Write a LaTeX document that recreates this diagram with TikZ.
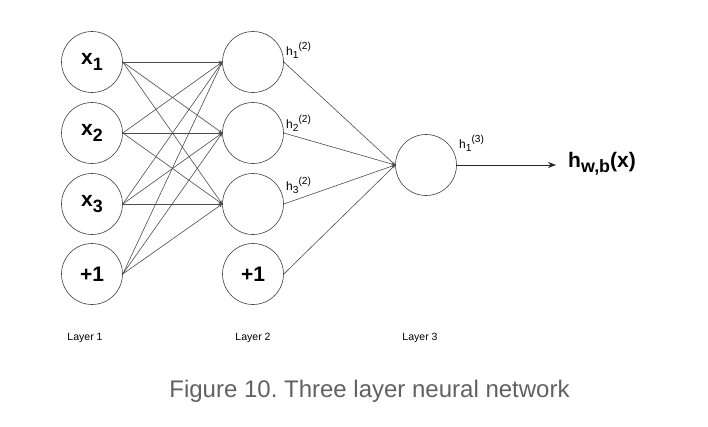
\documentclass[tikz,border=0pt]{standalone}
\usepackage{fontspec}
\setmainfont{Liberation Sans}
\usetikzlibrary{arrows.meta}
\frenchspacing
\newcommand\mysub[1]{\raisebox{-0.28em}{\scalebox{0.85}{#1}}}
\newcommand\mysup[1]{\raisebox{0.45em}{\scalebox{0.85}{#1}}}
\begin{document}
\begin{tikzpicture}[x=1pt,y=-1pt,
  neuron/.style={circle,draw=black!75,line width=0.6pt,minimum size=61pt,inner sep=0pt,font=\fontsize{21}{22}\selectfont\bfseries},
  conn/.style={draw=black!70,line width=0.6pt,-{Stealth[length=3.5pt,width=3pt]}},
  hlab/.style={font=\fontsize{12}{13}\selectfont,inner sep=0pt},
  laylab/.style={font=\fontsize{10.5}{11}\selectfont,inner sep=0pt}]
\useasboundingbox (0,0) rectangle (708,426);
\node[neuron] (x1) at (92,62) {x\mysub{1}};
\node[neuron] (x2) at (92,133) {x\mysub{2}};
\node[neuron] (x3) at (92,204) {x\mysub{3}};
\node[neuron] (b1) at (92,274) {+1};
\node[neuron] (h1) at (253,62) {};
\node[neuron] (h2) at (253,133) {};
\node[neuron] (h3) at (253,204) {};
\node[neuron] (b2) at (253,274) {+1};
\node[neuron] (o) at (426,165) {};
\foreach \s in {x1,x2,x3,b1}{
  \foreach \t in {h1,h2,h3}{
    \draw[conn] (\s.east) -- (\t.west);
  }
}
\foreach \s in {h1,h2,h3,b2}{
  \draw[conn] (\s.east) -- (o.west);
}
\node[font=\fontsize{21}{22}\selectfont\bfseries,anchor=base west,inner sep=0pt] (out) at (568,167) {h\mysub{w,b}(x)};
\coordinate (tip) at (556,165);
\draw[draw=black!85,line width=0.7pt,-{Stealth[length=8pt,width=6pt]}] (o.east) -- (tip);
\node[hlab,anchor=base west] (l1) at (286,55) {h\mysub{1}\mysup{(2)}};
\node[hlab,anchor=base west] (l2) at (286,128) {h\mysub{2}\mysup{(2)}};
\node[hlab,anchor=base west] (l3) at (286,190) {h\mysub{3}\mysup{(2)}};
\node[hlab,anchor=base west] (l4) at (459,148) {h\mysub{1}\mysup{(3)}};
\node[laylab,anchor=base] (L1) at (85,340) {Layer 1};
\node[laylab,anchor=base] (L2) at (253,340) {Layer 2};
\node[laylab,anchor=base] (L3) at (420,340) {Layer 3};
\node[font=\fontsize{24}{26}\selectfont,text=black!62,inner sep=0pt,anchor=base] (cap) at (369.5,397) {Figure 10. Three layer neural network};
\end{tikzpicture}
\end{document}
